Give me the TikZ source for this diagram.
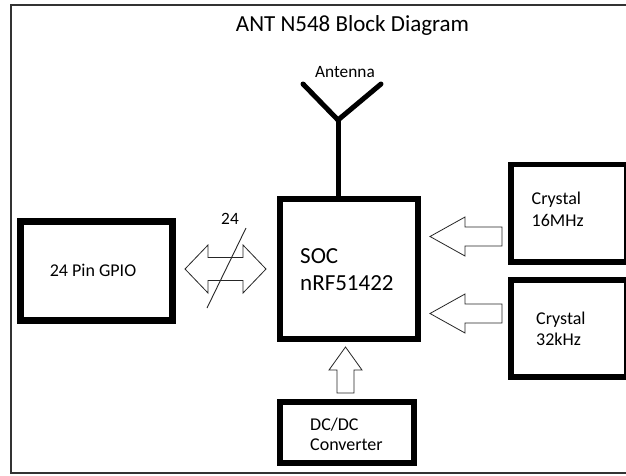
\documentclass[tikz,border=0pt]{standalone}
\usepackage{fontspec}
\setmainfont{Carlito}
\begin{document}
\begin{tikzpicture}[x=1pt,y=-1pt,
  blockbox/.style={draw=black, line width=5.5pt, minimum width=#1, inner sep=0pt, fill=white},
  hollow/.style={draw=black!85, line width=0.8pt, fill=white, line join=miter},
  txt/.style={inner sep=0pt, font=\fontsize{18}{21}\selectfont},
  bigtxt/.style={inner sep=0pt, font=\fontsize{23}{27}\selectfont},
  smalltxt/.style={inner sep=0pt, font=\fontsize{17.3}{20}\selectfont}]
\useasboundingbox (0,0) rectangle (626,475);
\clip (0,0) rectangle (626,475);
\fill[white] (0,0) rectangle (626,475);
% frame
\draw[black!80, line width=1.8pt] (11,5) rectangle (640,473);
% title
\node[bigtxt, anchor=base] (title) at (352.5,31.7) {ANT N548 Block Diagram};
% boxes
\node[blockbox=138pt, minimum height=140pt] (soc) at (349,269) {};
\node[blockbox=152pt, minimum height=99pt, line width=6.5pt] (gpio) at (96.5,271) {};
\node[blockbox=116pt, minimum height=97.5pt] (xt1) at (569,213.25) {};
\node[blockbox=116pt, minimum height=97pt] (xt2) at (569,328.5) {};
\node[blockbox=134pt, minimum height=61pt, line width=6pt] (dcdc) at (347,432.5) {};
% texts
\node[bigtxt, anchor=base west] (soc1) at (300,263.3) {SOC};
\node[bigtxt, anchor=base west] (soc2) at (300,290) {nRF51422};
\node[txt, anchor=base] (gpiot) at (93,276) {24 Pin GPIO};
\node[txt, anchor=base west] (xt1a) at (531.5,204) {Crystal};
\node[txt, anchor=base west] (xt1b) at (531.5,226.7) {16MHz};
\node[txt, anchor=base west] (xt2a) at (536,324) {Crystal};
\node[txt, anchor=base west] (xt2b) at (536,345.3) {32kHz};
\node[txt, anchor=base west] (dc1) at (310,430) {DC/DC};
\node[txt, anchor=base west] (dc2) at (310,450.7) {Converter};
\node[smalltxt, anchor=base] (anttxt) at (345,77.3) {Antenna};
\node[smalltxt, anchor=base] (bus) at (230,224) {24};
% antenna
\coordinate (antj) at (338,120);
\coordinate (antl) at (303,84);
\coordinate (antr) at (381,84);
\draw[line width=5pt, line cap=round, line join=miter] (antl) -- (antj) -- (antr);
\draw[line width=5pt] (antj) -- (antj |- soc.north);
% double arrow GPIO <-> SOC
\draw[hollow] (185,269) -- (208,245) -- (208,257.5) -- (243,257.5) -- (243,245) -- (266,269)
  -- (243,293) -- (243,280.5) -- (208,280.5) -- (208,293) -- cycle;
\coordinate (sl1) at (246,228);
\coordinate (sl2) at (207,308);
\draw[black!85, line width=0.9pt] (sl1) -- (sl2);
% crystal arrows
\draw[hollow] (430,236.5) -- (465,217) -- (465,227) -- (502,227) -- (502,246) -- (465,246) -- (465,256) -- cycle;
\draw[hollow] (430,313.5) -- (465,294) -- (465,304) -- (502,304) -- (502,323) -- (465,323) -- (465,333) -- cycle;
% dcdc arrow
\draw[hollow] (345.5,347) -- (362,370) -- (354,370) -- (354,393) -- (337,393) -- (337,370) -- (329,370) -- cycle;
\end{tikzpicture}
\end{document}
